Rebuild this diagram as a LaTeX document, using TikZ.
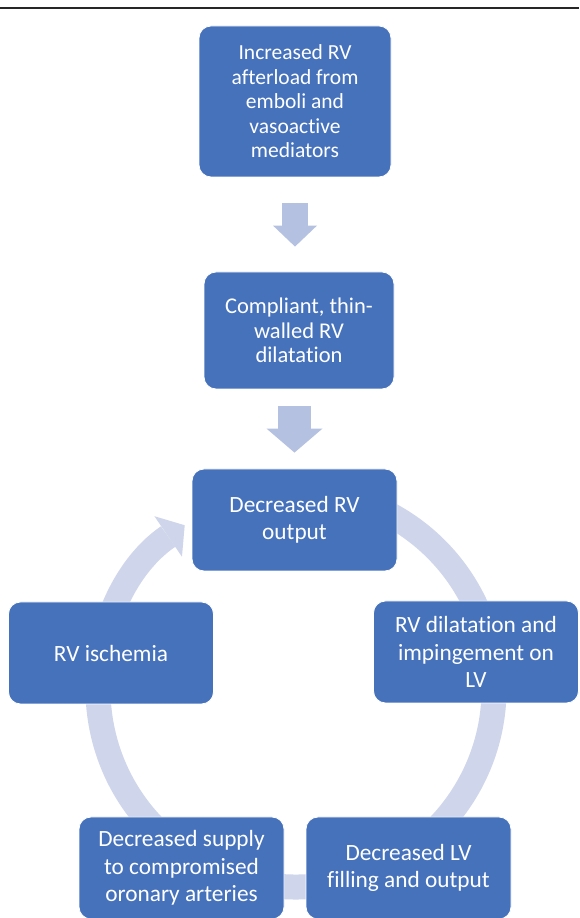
\documentclass[tikz,border=0pt]{standalone}
\usepackage{fontspec}
\setmainfont{Carlito}[Ligatures=NoCommon]
\usetikzlibrary{arrows.meta}
\definecolor{boxblue}{RGB}{70,114,188}
\definecolor{downblue}{RGB}{180,193,224}
\definecolor{ringblue}{RGB}{207,213,234}

\begin{document}
\begin{tikzpicture}[x=1pt,y=1pt,
  box/.style={draw=white,line width=0.8pt,fill=boxblue,rounded corners=12pt,
    text=white,align=center,inner sep=0pt,minimum width=205pt,minimum height=102pt,
    font=\fontsize{23.3}{27.5}\selectfont},
  downarrow/.style={draw=downblue,line width=26pt,
    -{Triangle[width=44pt,length=21pt,line width=0pt]}},
  ringarrow/.style={draw=ringblue,line width=25pt,
    -{Triangle[width=49pt,length=20pt,line width=0pt]}}]
  \useasboundingbox (0,0) rectangle (579,918);
  \draw[line width=1.5pt,black!85] (0,910) -- (579,910);

  % ring of the cycle, under the boxes
  \coordinate (cen) at (296,229);
  \draw[ringarrow] (cen) ++(100:198) arc[start angle=100,end angle=-235.8,radius=198];

  % chain at the top
  \node[box,minimum width=192pt,minimum height=151pt,
    font=\fontsize{21.5}{24.5}\selectfont] (afterload) at (295,816.5)
    {Increased RV\\afterload from\\emboli and\\vasoactive\\mediators};
  \node[box,minimum width=190pt,minimum height=117pt,
    font=\fontsize{22.5}{24.5}\selectfont] (thinwall) at (299,587.5)
    {Compliant, thin-\\walled RV\\dilatation};

  % cycle
  \node[box] (rvout)    at (294.5,398) {Decreased RV\\output};
  \node[box] (impinge)  at (476,266)   {RV dilatation and\\impingement on\\LV};
  \node[box] (ischemia) at (111,265)   {RV ischemia};
  \node[box] (supply)   at (181.5,50)  {Decreased supply\\to compromised\\oronary arteries};
  \node[box] (lvfill)   at (408.5,50)  {Decreased LV\\filling and output};

  \draw[downarrow,shorten <=26pt,shorten >=25pt]
    (afterload.south) -- (afterload.south |- thinwall.north);
  \draw[downarrow,line width=33pt,-{Triangle[width=56pt,length=24pt,line width=0pt]},
    shorten <=17pt,shorten >=16pt]
    (thinwall.south -| rvout.north) -- (rvout.north);
\end{tikzpicture}
\end{document}
